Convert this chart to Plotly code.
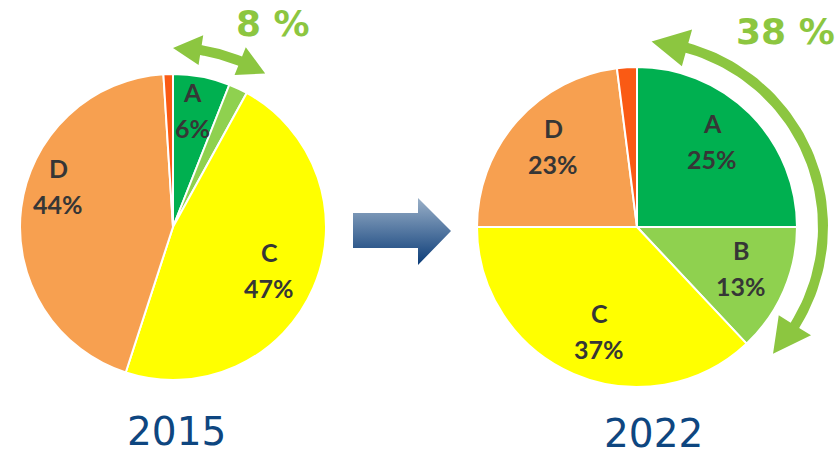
import numpy as np
import plotly.graph_objects as go

# market shares per class
classes = ["A", "B", "C", "D", "E"]
share_2015 = [6, 2, 47, 44, 1]
share_2022 = [25, 13, 37, 23, 2]
years = ["2015", "2022"]
growth_labels = ["8 %", "38 %"]

slice_colors = ["#00b050", "#8fd14f", "#ffff00", "#f7a050", "#fa5a14"]
label_color = "#363636"
arrow_green = "#8cc640"
year_color = "#0e4680"

W, H = 839, 455

# label anchor points (pixels) for the classes that carry text
label_pos_2015 = {"A": (192, 110), "C": (269, 270), "D": (58, 186)}
label_pos_2022 = {"A": (712, 141), "B": (741, 268), "C": (599, 331), "D": (553, 146)}


def arc_arrow(cx, cy, r, a0, a1, thick, head_len, head_w):
    """closed outline of a circular arc arrow with heads on both ends
    (angles in degrees, clockwise from 12 o'clock, pixel coords)"""
    def pt(a, rr):
        t = np.radians(a)
        return cx + rr * np.sin(t), cy - rr * np.cos(t)

    hl = np.degrees(head_len / r)
    s0, s1 = a0 + hl, a1 - hl
    angs = np.linspace(s0, s1, 60)
    xs, ys = [], []
    # head at a0
    for a, rr in [(s0, r - head_w / 2), (a0, r), (s0, r + head_w / 2)]:
        x, y = pt(a, rr)
        xs.append(x)
        ys.append(y)
    for a in angs:
        x, y = pt(a, r + thick / 2)
        xs.append(x)
        ys.append(y)
    for a, rr in [(s1, r + head_w / 2), (a1, r), (s1, r - head_w / 2)]:
        x, y = pt(a, rr)
        xs.append(x)
        ys.append(y)
    for a in angs[::-1]:
        x, y = pt(a, r - thick / 2)
        xs.append(x)
        ys.append(y)
    xs.append(xs[0])
    ys.append(ys[0])
    return xs, ys


fig = go.Figure()

# the two pies
for vals, dom in [
    (share_2015, dict(x=[20 / W, 326 / W], y=[(H - 380) / H, (H - 74) / H])),
    (share_2022, dict(x=[477 / W, 797 / W], y=[(H - 387) / H, (H - 67) / H])),
]:
    fig.add_trace(
        go.Pie(
            labels=classes,
            values=vals,
            sort=False,
            direction="clockwise",
            rotation=0,
            textinfo="none",
            hoverinfo="label+percent",
            marker=dict(colors=slice_colors, line=dict(color="white", width=2)),
            domain=dom,
        )
    )

# green growth arrows around the green slices
for cx, cy, r, a0, a1, thick, hl, hw in [
    (173, 227, 179, 0, 31, 10, 28, 30),
    (637, 227, 186, 4.5, 133, 10, 36, 38),
]:
    xs, ys = arc_arrow(cx, cy, r, a0, a1, thick, hl, hw)
    fig.add_trace(
        go.Scatter(
            x=xs, y=ys, mode="lines", fill="toself",
            fillcolor=arrow_green, line=dict(width=0, color=arrow_green),
            hoverinfo="skip",
        )
    )

# blue arrow in the middle
bx = [353, 418, 418, 451, 418, 418, 353, 353]
by = [213, 213, 198, 231, 265, 248, 248, 213]
fig.add_trace(
    go.Scatter(
        x=bx, y=by, mode="lines", fill="toself",
        fillgradient=dict(type="vertical", colorscale=[[0, "#0b3c78"], [1, "#9ab0c8"]]),
        line=dict(width=0, color="#0b3c78"),
        hoverinfo="skip",
    )
)

# slice labels
for vals, pos in [(share_2015, label_pos_2015), (share_2022, label_pos_2022)]:
    for name, v in zip(classes, vals):
        if name not in pos:
            continue
        x, y = pos[name]
        for txt, dy in [(name, -18), (f"{v}%", 18)]:
            fig.add_annotation(
                x=x, y=y + dy, xref="x", yref="y", text=f"<b>{txt}</b>",
                showarrow=False, font=dict(family="Lato", size=25, color=label_color),
            )

# growth figures
for txt, (x, y) in zip(growth_labels, [(273, 23), (785, 31)]):
    fig.add_annotation(
        x=x, y=y, xref="x", yref="y", text=f"<b>{txt}</b>", showarrow=False,
        font=dict(family="DejaVu Sans", size=36, color=arrow_green),
    )

# year captions
for txt, (x, y) in zip(years, [(176, 431), (653, 433)]):
    fig.add_annotation(
        x=x, y=y, xref="x", yref="y", text=txt, showarrow=False,
        font=dict(family="DejaVu Sans", size=39, color=year_color),
    )

fig.update_xaxes(range=[0, W], visible=False, domain=[0, 1], fixedrange=True)
fig.update_yaxes(range=[H, 0], visible=False, domain=[0, 1], fixedrange=True)
fig.update_layout(
    width=W,
    height=H,
    margin=dict(l=0, r=0, t=0, b=0),
    paper_bgcolor="white",
    plot_bgcolor="rgba(0,0,0,0)",
    showlegend=False,
)

# drop the default page margin so the figure sits flush in the window
fig.write_html(
    "out.html",
    config={"displayModeBar": False},
    post_script="document.body.style.margin='0';",
)
